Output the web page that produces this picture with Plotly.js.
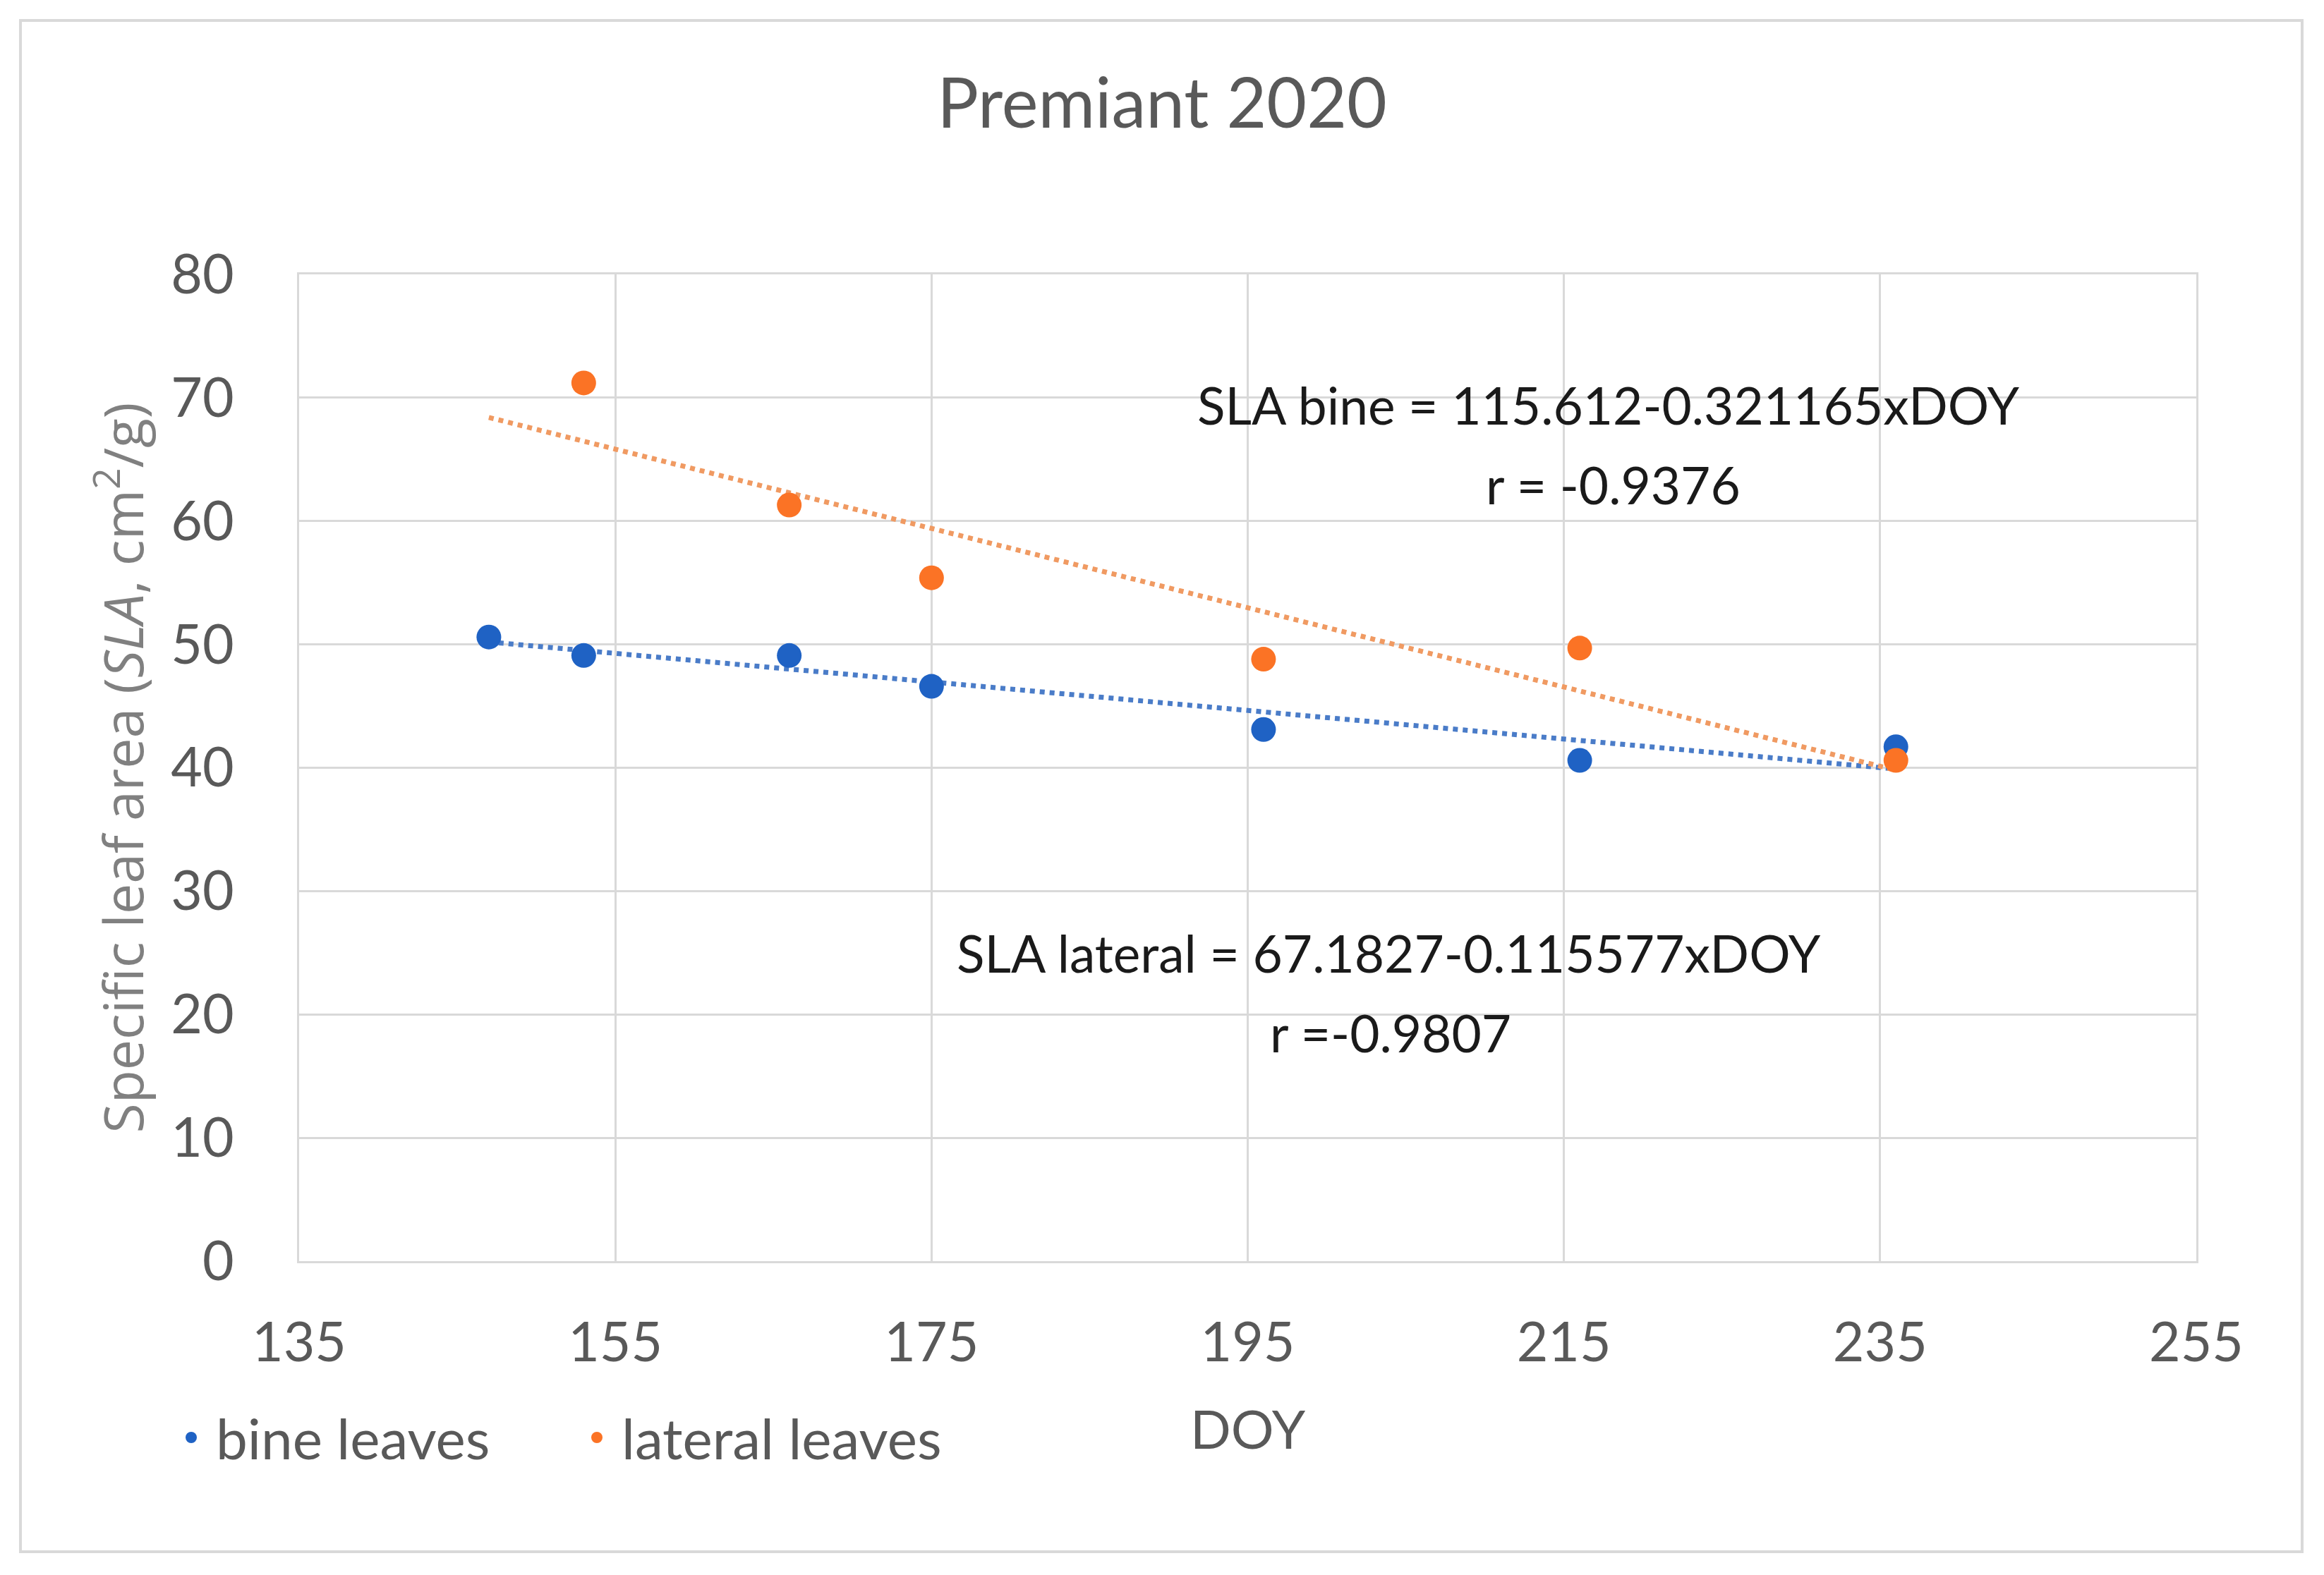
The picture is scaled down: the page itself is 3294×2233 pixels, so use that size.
<!DOCTYPE html>
<html>
<head>
<meta charset="utf-8">
<script src="https://cdn.plot.ly/plotly-3.0.1.min.js"></script>
<style>html,body{margin:0;padding:0;background:#fff;}#chart{width:3294px;height:2233px;}</style>
</head>
<body>
<div id="chart"></div>
<script>
// ---- data ----
const bineDOY = [147, 153, 166, 175, 196, 216, 236];
const bineSLA = [50.6, 49.1, 49.1, 46.6, 43.1, 40.6, 41.7];
const lateralDOY = [153, 166, 175, 196, 216, 236];
const lateralSLA = [71.2, 61.3, 55.4, 48.8, 49.7, 40.6];
// trend line end points
const bineTrendDOY = [147, 236];
const bineTrendSLA = [50.2, 39.9];
const lateralTrendDOY = [147, 236];
const lateralTrendSLA = [68.4, 39.8];
const xTicks = [135, 155, 175, 195, 215, 235, 255];
const yTicks = [0, 10, 20, 30, 40, 50, 60, 70, 80];
const seriesNames = ['bine leaves', 'lateral leaves'];
const eqBine = 'SLA bine = 115.612-0.321165xDOY';
const rBine = 'r = -0.9376';
const eqLateral = 'SLA lateral = 67.1827-0.115577xDOY';
const rLateral = 'r =-0.9807';

// ---- layout geometry (pixels) ----
const W = 3294, H = 2233;
const L = 424, R = 181, T = 389, B = 445;
const PW = W - L - R, PH = H - T - B;
const px = x => (x - L) / PW;
const py = y => (H - B - y) / PH;

const BLUE = '#1f62c4', ORANGE = '#fb7325';
const GRID = '#d9d9d9', TXT = '#595959';
const FONT = 'Lato, "Open Sans", sans-serif';

const traces = [
  {x: bineTrendDOY, y: bineTrendSLA, type: 'scatter', mode: 'lines',
   line: {color: '#4a7cc8', width: 7, dash: 'dot'}, showlegend: false, hoverinfo: 'skip'},
  {x: lateralTrendDOY, y: lateralTrendSLA, type: 'scatter', mode: 'lines',
   line: {color: '#f09a62', width: 7, dash: 'dot'}, showlegend: false, hoverinfo: 'skip'},
  {x: bineDOY, y: bineSLA, type: 'scatter', mode: 'markers', name: seriesNames[0],
   marker: {color: BLUE, size: 35}},
  {x: lateralDOY, y: lateralSLA, type: 'scatter', mode: 'markers', name: seriesNames[1],
   marker: {color: ORANGE, size: 35}}
];

const layout = {
  width: W, height: H,
  paper_bgcolor: '#fff', plot_bgcolor: '#fff',
  margin: {l: L, r: R, t: T, b: B, pad: 0},
  font: {family: FONT, color: TXT, size: 75},
  title: {text: 'Premiant 2020', font: {family: FONT, size: 98, color: TXT},
          x: 0.5, xref: 'container', y: 1 - 147 / H, yref: 'container', yanchor: 'middle'},
  xaxis: {range: [135, 255], tickvals: xTicks, ticktext: xTicks.map(String),
          showgrid: true, gridcolor: GRID, gridwidth: 3, zeroline: false,
          showline: true, linecolor: GRID, linewidth: 3, mirror: true,
          ticks: 'outside', ticklen: 47, tickcolor: 'rgba(0,0,0,0)',
          tickfont: {family: FONT, size: 77, color: TXT},
          title: {text: 'DOY', font: {family: FONT, size: 76, color: TXT}, standoff: 56},
          automargin: true},
  yaxis: {range: [0, 80], tickvals: yTicks, ticktext: yTicks.map(String),
          showgrid: true, gridcolor: GRID, gridwidth: 3, zeroline: false,
          showline: true, linecolor: GRID, linewidth: 3, mirror: true,
          ticks: 'outside', ticklen: 74, tickcolor: 'rgba(0,0,0,0)',
          tickfont: {family: FONT, size: 77, color: TXT},
          title: {text: 'Specific leaf area (<i>SLA</i>, cm<sup>2</sup>/g)',
                  font: {family: '"Open Sans", sans-serif', size: 77, color: '#808080'}, standoff: 14},
          automargin: true},
  showlegend: true,
  legend: {orientation: 'h', xref: 'paper', yref: 'paper',
           x: px(236), y: py(2038), xanchor: 'left', yanchor: 'middle',
           font: {family: FONT, size: 80, color: TXT}, bgcolor: 'rgba(0,0,0,0)',
           itemsizing: 'trace', itemwidth: 60, traceorder: 'normal',
           entrywidth: 500, entrywidthmode: 'pixels'},
  shapes: [
    {type: 'rect', xref: 'paper', yref: 'paper', x0: px(29), x1: px(3263), y0: py(29), y1: py(2200),
     line: {color: GRID, width: 4}, fillcolor: 'rgba(0,0,0,0)', layer: 'below'},
    {type: 'rect', xref: 'paper', yref: 'paper', x0: px(1580), x1: px(2994), y0: py(471), y1: py(769),
     line: {width: 0}, fillcolor: '#fff', layer: 'between'},
    {type: 'rect', xref: 'paper', yref: 'paper', x0: px(1212), x1: px(2731), y0: py(1254), y1: py(1546),
     line: {width: 0}, fillcolor: '#fff', layer: 'between'}
  ],
  annotations: [
    {text: eqBine, xref: 'paper', yref: 'paper', x: px(2279), y: py(574), showarrow: false,
     xanchor: 'center', yanchor: 'middle', font: {family: FONT, size: 73, color: '#1a1a1a'}},
    {text: rBine, xref: 'paper', yref: 'paper', x: px(2286), y: py(687), showarrow: false,
     xanchor: 'center', yanchor: 'middle', font: {family: FONT, size: 73, color: '#1a1a1a'}},
    {text: eqLateral, xref: 'paper', yref: 'paper', x: px(1968), y: py(1351), showarrow: false,
     xanchor: 'center', yanchor: 'middle', font: {family: FONT, size: 73, color: '#1a1a1a'}},
    {text: rLateral, xref: 'paper', yref: 'paper', x: px(1971), y: py(1464), showarrow: false,
     xanchor: 'center', yanchor: 'middle', font: {family: FONT, size: 73, color: '#1a1a1a'}}
  ]
};

Plotly.newPlot('chart', traces, layout, {staticPlot: true, displayModeBar: false});
</script>
</body>
</html>
